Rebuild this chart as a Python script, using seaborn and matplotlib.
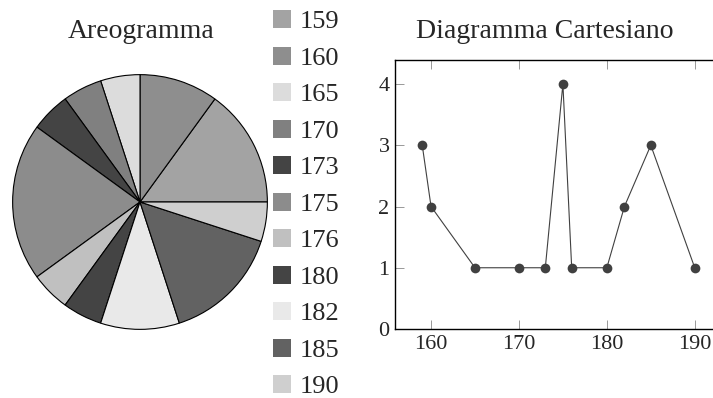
import matplotlib
matplotlib.use("Agg")
import matplotlib.pyplot as plt
import seaborn as sns
import pandas as pd

heights = [159, 160, 165, 170, 173, 175, 176, 180, 182, 185, 190]
counts = [3, 2, 1, 1, 1, 4, 1, 1, 2, 3, 1]
labels = [str(h) for h in heights]
colors = ["#a3a3a3", "#8e8e8e", "#dcdcdc", "#808080", "#444444", "#8c8c8c",
          "#c0c0c0", "#444444", "#e9e9e9", "#626262", "#cfcfcf"]
x_ticks = [160, 170, 180, 190]
y_ticks = [0, 1, 2, 3, 4]

sns.set_theme(style="white")
plt.rcParams["font.family"] = ["Liberation Serif", "DejaVu Serif"]
plt.rcParams["mathtext.fontset"] = "dejavuserif"

W, H = 713, 398
fig = plt.figure(figsize=(W / 100, H / 100), dpi=100)

def px_axes(l, t, r, b):
    return fig.add_axes([l / W, 1 - b / H, (r - l) / W, (b - t) / H])

# Pie
axp = px_axes(12, 74, 268, 330)
wedges, _ = axp.pie(counts, colors=colors, startangle=0, counterclock=True,
                    wedgeprops=dict(edgecolor="black", linewidth=0.8))
axp.set_aspect("equal")
axp.set_xlim(-1.005, 1.005)
axp.set_ylim(-1.005, 1.005)
fig.text(141 / W, 1 - 31 / H, "Areogramma", ha="center", va="center", fontsize=20)

leg = fig.legend(wedges, labels, loc="upper left", bbox_to_anchor=(273 / W, 1 - 10 / H),
                 frameon=False, fontsize=19, handlelength=0.68, handleheight=0.68,
                 handletextpad=0.34, labelspacing=0.50, borderaxespad=0, borderpad=0)
for h in leg.legend_handles:
    h.set_edgecolor("none")

# Line chart
axl = px_axes(395, 59.5, 722, 329)
df = pd.DataFrame({"altezza": heights, "frequenza": counts})
sns.lineplot(data=df, x="altezza", y="frequenza", ax=axl, color="#404040",
             linewidth=0.8, marker="o", markersize=7, markeredgewidth=0,
             markerfacecolor="#404040")
axl.set_xlim(155.9, 193.1)
axl.set_ylim(0, 4.4)
axl.set_xticks(x_ticks)
axl.set_yticks(y_ticks)
axl.set_xlabel("")
axl.set_ylabel("")
axl.tick_params(axis="both", direction="in", length=6.5, width=0.6, color="#888888",
                labelsize=16, top=True, bottom=True, left=True, right=False, pad=4)
axl.tick_params(axis="x", labeltop=False)
for s in axl.spines.values():
    s.set_color("black")
    s.set_linewidth(1.0)
fig.text(545 / W, 1 - 31 / H, "Diagramma Cartesiano", ha="center", va="center", fontsize=20)

fig.savefig("out.png", dpi=100)
